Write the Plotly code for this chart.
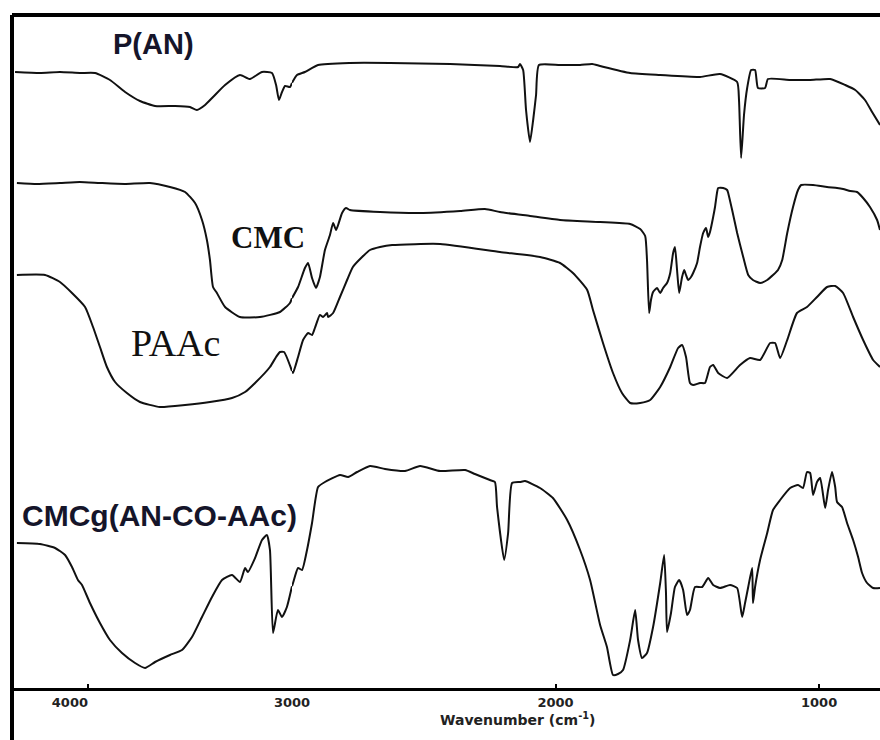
import numpy as np
import plotly.graph_objects as go

# FTIR spectra, stacked with vertical offsets (relative transmittance, a.u.)
# wavenumber in cm^-1 (descending), transmittance in offset units

pan_wn = [4357, 4235, 4137, 4039, 3965, 3892, 3818, 3745, 3671, 3573, 3500, 3466,
          3426, 3387, 3328, 3255, 3206, 3147, 3098, 3078, 3064, 3049, 3034, 3010,
          2981, 2951, 2901, 2780, 2628, 2400, 2211, 2142, 2135, 2123, 2112, 2097,
          2085, 2074, 2063, 1983, 1907, 1861, 1831, 1717, 1603, 1452, 1376, 1311,
          1304, 1296, 1285, 1273, 1258, 1243, 1232, 1205, 1194, 1110, 1034, 958,
          901, 863, 826, 799, 769]
pan_t = [616, 615, 616, 615, 615, 608, 596, 587, 582, 582, 581, 578,
         583, 591, 603, 613, 609, 616, 615, 603, 588, 596, 602, 601,
         613, 616, 623, 625, 625, 624, 622, 621, 624, 618, 578, 546,
         568, 593, 623, 623, 623, 624, 622, 615, 613, 611, 614, 606,
         588, 530, 573, 600, 618, 618, 600, 600, 609, 608, 608, 609,
         603, 598, 588, 576, 563]

cmc_wn = [4348, 4250, 4137, 4040, 3941, 3820, 3696, 3598, 3524, 3475, 3441, 3417,
          3402, 3387, 3368, 3328, 3255, 3157, 3059, 3010, 2977, 2951, 2939, 2924,
          2909, 2894, 2875, 2856, 2844, 2833, 2825, 2810, 2795, 2780, 2666, 2514,
          2362, 2268, 2211, 2097, 1983, 1831, 1717, 1679, 1660, 1653, 1645, 1638,
          1630, 1615, 1603, 1592, 1577, 1565, 1554, 1547, 1539, 1531, 1520, 1512,
          1505, 1497, 1486, 1478, 1463, 1452, 1440, 1429, 1421, 1414, 1402, 1395,
          1387, 1383, 1364, 1349, 1345, 1330, 1311, 1288, 1269, 1251, 1224, 1197,
          1175, 1156, 1140, 1121, 1099, 1080, 1068, 1023, 970, 932, 909, 882,
          856, 833, 807, 780, 769]
cmc_t = [505, 504, 505, 506, 505, 504, 505, 501, 496, 485, 468, 448,
         428, 401, 395, 381, 371, 371, 376, 385, 401, 420, 425, 410,
         400, 411, 438, 453, 465, 458, 463, 475, 480, 478, 476, 475,
         477, 479, 476, 472, 468, 466, 464, 459, 452, 428, 375, 388,
         396, 400, 395, 400, 405, 415, 435, 441, 418, 395, 411, 418,
         413, 408, 411, 415, 425, 441, 455, 460, 451, 456, 471, 481,
         496, 500, 500, 498, 495, 478, 455, 431, 413, 408, 405, 408,
         413, 418, 428, 455, 481, 498, 503, 503, 501, 500, 499, 497,
         496, 490, 481, 468, 458]

paac_wn = [4348, 4210, 4137, 4078, 4014, 3975, 3941, 3907, 3867, 3809, 3745, 3647,
           3524, 3402, 3294, 3230, 3181, 3108, 3078, 3059, 3039, 2996, 2977, 2958,
           2939, 2924, 2913, 2894, 2882, 2867, 2863, 2844, 2818, 2791, 2769, 2734,
           2704, 2666, 2620, 2438, 2211, 2059, 1983, 1934, 1880, 1858, 1820, 1782,
           1748, 1717, 1679, 1641, 1603, 1565, 1535, 1520, 1505, 1490, 1478, 1452,
           1433, 1414, 1402, 1383, 1349, 1300, 1262, 1224, 1186, 1167, 1148, 1121,
           1084, 1046, 1008, 970, 939, 909, 871, 833, 795, 769]
paac_t = [413, 413, 406, 395, 381, 361, 341, 321, 306, 295, 286, 281,
          283, 286, 290, 296, 305, 321, 331, 336, 336, 315, 331, 348,
          355, 353, 360, 373, 371, 375, 371, 375, 391, 408, 421, 431,
          438, 441, 443, 444, 436, 431, 425, 415, 398, 378, 345, 315,
          295, 285, 285, 288, 301, 321, 340, 343, 331, 305, 303, 305,
          305, 321, 323, 315, 310, 323, 330, 328, 345, 345, 330, 348,
          375, 381, 391, 401, 402, 395, 371, 348, 328, 321]

graft_wn = [4348, 4235, 4161, 4112, 4078, 4049, 4029, 3990, 3941, 3892, 3833, 3769,
            3720, 3671, 3598, 3539, 3490, 3441, 3392, 3343, 3294, 3255, 3230, 3216,
            3181, 3147, 3123, 3108, 3093, 3069, 3049, 3025, 2996, 2977, 2962, 2943,
            2924, 2901, 2875, 2818, 2787, 2753, 2704, 2647, 2571, 2514, 2438, 2343,
            2306, 2249, 2230, 2222, 2195, 2180, 2165, 2135, 2116, 2059, 2010, 1956,
            1907, 1869, 1831, 1805, 1782, 1763, 1744, 1717, 1698, 1687, 1672, 1653,
            1630, 1603, 1588, 1581, 1577, 1562, 1547, 1531, 1516, 1501, 1490, 1471,
            1444, 1421, 1402, 1376, 1338, 1311, 1292, 1281, 1269, 1254, 1251, 1243,
            1224, 1197, 1175, 1148, 1110, 1080, 1061, 1046, 1034, 1023, 1008, 996,
            977, 966, 951, 939, 932, 913, 894, 871, 852, 837, 818, 795, 769]
graft_t = [145, 144, 140, 133, 121, 108, 103, 85, 65, 48, 35, 25,
           20, 26, 33, 38, 51, 71, 91, 108, 113, 106, 120, 116,
           130, 148, 153, 138, 55, 78, 71, 81, 105, 120, 118, 138,
           165, 201, 206, 213, 211, 216, 222, 219, 217, 222, 217, 218,
           214, 208, 206, 181, 128, 155, 205, 206, 207, 200, 190, 168,
           138, 108, 63, 41, 13, 14, 18, 48, 78, 48, 30, 35,
           61, 105, 133, 95, 56, 75, 101, 108, 98, 73, 78, 101,
           101, 110, 103, 100, 103, 100, 71, 85, 101, 120, 85, 101,
           128, 155, 178, 188, 200, 203, 200, 216, 215, 193, 206, 210,
           180, 198, 216, 201, 186, 181, 165, 148, 131, 115, 105, 100, 100]

# Axis break: the 4000-3000 cm^-1 region is drawn on a compressed scale
BREAK = 3000
X1_RANGE = [4372, BREAK]
X2_RANGE = [BREAK, 769]
SPLIT = (292 - 12) / 868.0

x1_ticks = [4000]
x2_ticks = [3000, 2000, 1000]
x1_text = ["4000"]
x2_text = ["3000", "2000", "1000"]


def split_spectrum(wn, t, brk=BREAK):
    wn = np.asarray(wn, float)
    t = np.asarray(t, float)
    tb = float(np.interp(brk, wn[::-1], t[::-1]))
    hi = wn > brk
    lo = wn < brk
    left = (np.r_[wn[hi], brk], np.r_[t[hi], tb])
    right = (np.r_[brk, wn[lo]], np.r_[tb, t[lo]])
    return left, right


fig = go.Figure()
line_style = dict(color="#111111", width=2, shape="spline", smoothing=0.5)
for wn, t in [(pan_wn, pan_t), (cmc_wn, cmc_t), (paac_wn, paac_t), (graft_wn, graft_t)]:
    (lx, ly), (rx, ry) = split_spectrum(wn, t)
    fig.add_trace(go.Scatter(x=lx, y=ly, mode="lines", line=line_style,
                             xaxis="x", yaxis="y", showlegend=False, hoverinfo="skip"))
    fig.add_trace(go.Scatter(x=rx, y=ry, mode="lines", line=line_style,
                             xaxis="x2", yaxis="y", showlegend=False, hoverinfo="skip"))

tick_font = dict(family="DejaVu Sans", size=13, color="#222222", weight="bold")
axis_common = dict(showline=True, linecolor="black", linewidth=3, showgrid=False,
                   zeroline=False, ticks="inside", ticklen=4, tickwidth=2,
                   tickcolor="black", tickfont=tick_font, anchor="y", fixedrange=True,
                   automargin=False)

fig.update_layout(
    width=880, height=740,
    margin=dict(l=12, r=0, t=15, b=52, autoexpand=False),
    paper_bgcolor="white", plot_bgcolor="white",
    xaxis=dict(domain=[0, SPLIT], range=X1_RANGE, tickvals=x1_ticks, ticktext=x1_text,
               ticklabelshift=18, **axis_common),
    xaxis2=dict(domain=[SPLIT, 1], range=X2_RANGE, tickvals=x2_ticks, ticktext=x2_text,
                **axis_common),
    yaxis=dict(range=[0, 673], visible=False, fixedrange=True, automargin=False),
)

# Frame: heavy top rule and a left rule running past the axis
fig.add_shape(type="line", xref="paper", yref="paper", x0=0, x1=1, y0=1, y1=1,
              line=dict(color="black", width=4))
fig.add_shape(type="line", xref="paper", yref="paper", x0=0, x1=0, y0=-52 / 673, y1=1,
              line=dict(color="black", width=4))

label_color = "#15152a"
fig.add_annotation(x=3681, y=644, xref="x", yref="y", text="P(AN)", showarrow=False,
                   font=dict(family="Liberation Sans", size=29, color=label_color, weight="bold"))
fig.add_annotation(x=3118, y=451, xref="x", yref="y", text="CMC", showarrow=False,
                   font=dict(family="Liberation Serif", size=31, color="#111111", weight="bold"))
fig.add_annotation(x=3573, y=345, xref="x", yref="y", text="PAAc", showarrow=False,
                   font=dict(family="Liberation Serif", size=38, color="#111111"))
fig.add_annotation(x=3647, y=173, xref="x", yref="y", text="CMCg(AN-CO-AAc)", showarrow=False,
                   font=dict(family="Liberation Sans", size=30, color=label_color, weight="bold"))
fig.add_annotation(x=(517 - 12) / 868.0, y=-31 / 673, xref="paper", yref="paper",
                   xanchor="center", yanchor="middle",
                   text="Wavenumber (cm<sup>-1</sup>)", showarrow=False,
                   font=dict(family="DejaVu Sans", size=14, color="#222222", weight="bold"))

fig.write_html("out.html")
